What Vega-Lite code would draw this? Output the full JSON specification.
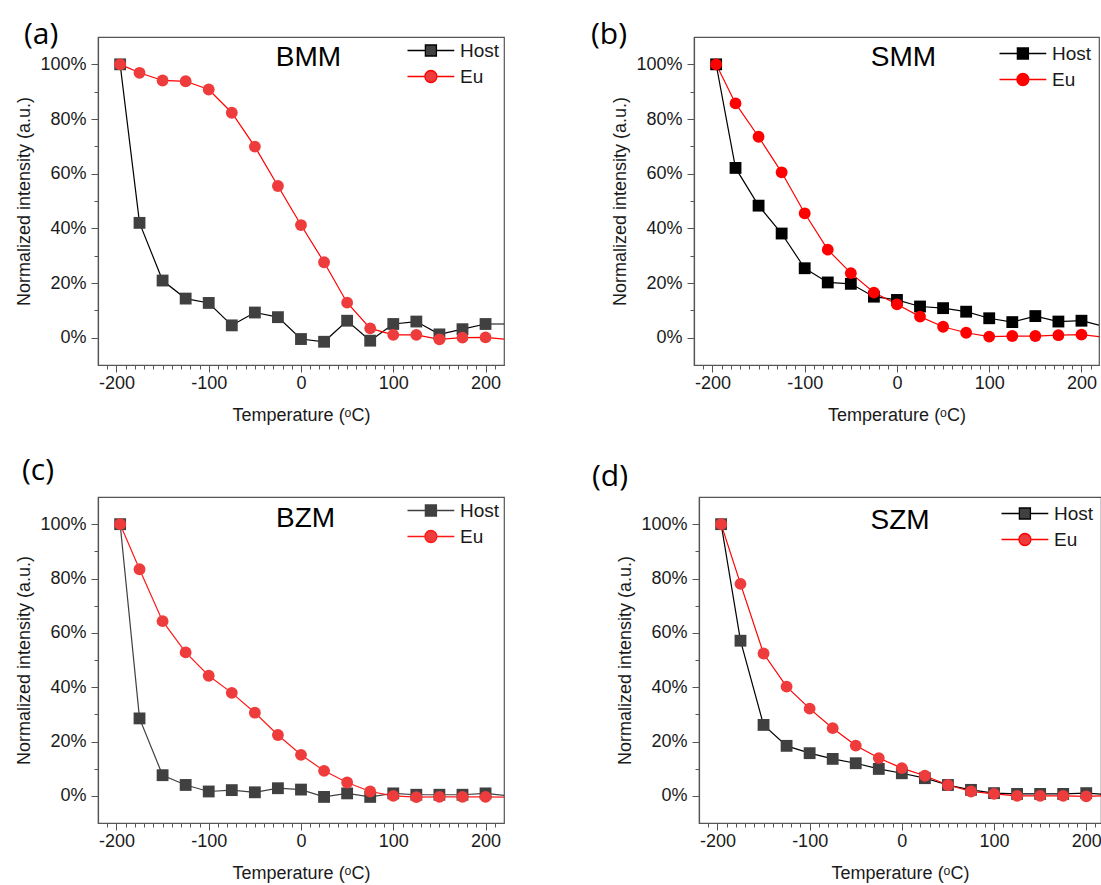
{
 "$schema": "https://vega.github.io/schema/vega-lite/v6.json",
 "padding": {"left": 15, "top": 19, "right": 0, "bottom": 0},
 "background": "white",
 "config": {
  "font": "Liberation Sans",
  "view": {"stroke": "#555555", "strokeWidth": 1.2},
  "axis": {"grid": false, "tickCount": 100, "domainColor": "#555555", "domainWidth": 1.2, "tickColor": "#555555", "tickWidth": 1, "labelFont": "Liberation Sans", "labelFontSize": 18, "labelColor": "#1a1a1a", "titleFont": "Liberation Sans", "titleFontSize": 18, "titleFontWeight": "normal", "titleColor": "#1a1a1a", "labelOverlap": false, "labelFlush": false, "labelBound": false},
  "legend": {"labelFont": "Liberation Sans", "labelFontSize": 19, "labelColor": "#1a1a1a", "padding": 4, "rowPadding": 6, "symbolSize": 144, "labelOffset": 37, "symbolStrokeWidth": 1.3},
  "title": {"font": "Open Sans", "fontSize": 30, "fontWeight": "normal", "anchor": "start", "frame": "bounds", "offset": 0, "baseline": "alphabetic", "color": "#000000"}
 },
 "datasets": {
  "a": [
   {"T": -196, "v": 100, "s": "Host"}, {"T": -175, "v": 42, "s": "Host"}, {"T": -150, "v": 20.9, "s": "Host"}, {"T": -125, "v": 14.3, "s": "Host"}, {"T": -100, "v": 12.7, "s": "Host"}, {"T": -75, "v": 4.5, "s": "Host"}, {"T": -50, "v": 9.2, "s": "Host"}, {"T": -25, "v": 7.5, "s": "Host"}, {"T": 0, "v": -0.5, "s": "Host"}, {"T": 25, "v": -1.5, "s": "Host"}, {"T": 50, "v": 6.2, "s": "Host"}, {"T": 75, "v": -1.1, "s": "Host"}, {"T": 100, "v": 5.0, "s": "Host"}, {"T": 125, "v": 5.9, "s": "Host"}, {"T": 150, "v": 1.2, "s": "Host"}, {"T": 175, "v": 3.1, "s": "Host"}, {"T": 200, "v": 5.0, "s": "Host"}, {"T": 225, "v": 5.0, "s": "Host"},
   {"T": -196, "v": 100, "s": "Eu"}, {"T": -175, "v": 96.9, "s": "Eu"}, {"T": -150, "v": 94.1, "s": "Eu"}, {"T": -125, "v": 93.8, "s": "Eu"}, {"T": -100, "v": 90.8, "s": "Eu"}, {"T": -75, "v": 82.3, "s": "Eu"}, {"T": -50, "v": 69.9, "s": "Eu"}, {"T": -25, "v": 55.5, "s": "Eu"}, {"T": 0, "v": 41.2, "s": "Eu"}, {"T": 25, "v": 27.6, "s": "Eu"}, {"T": 50, "v": 12.8, "s": "Eu"}, {"T": 75, "v": 3.4, "s": "Eu"}, {"T": 100, "v": 1.0, "s": "Eu"}, {"T": 125, "v": 1.0, "s": "Eu"}, {"T": 150, "v": -0.6, "s": "Eu"}, {"T": 175, "v": 0, "s": "Eu"}, {"T": 200, "v": 0.1, "s": "Eu"}, {"T": 225, "v": -0.5, "s": "Eu"}
  ],
  "b": [
   {"T": -196, "v": 100, "s": "Host"}, {"T": -175, "v": 62.1, "s": "Host"}, {"T": -150, "v": 48.3, "s": "Host"}, {"T": -125, "v": 38.1, "s": "Host"}, {"T": -100, "v": 25.4, "s": "Host"}, {"T": -75, "v": 20.2, "s": "Host"}, {"T": -50, "v": 19.7, "s": "Host"}, {"T": -25, "v": 15.0, "s": "Host"}, {"T": 0, "v": 13.8, "s": "Host"}, {"T": 25, "v": 11.4, "s": "Host"}, {"T": 50, "v": 10.8, "s": "Host"}, {"T": 75, "v": 9.5, "s": "Host"}, {"T": 100, "v": 7.1, "s": "Host"}, {"T": 125, "v": 5.7, "s": "Host"}, {"T": 150, "v": 7.9, "s": "Host"}, {"T": 175, "v": 5.9, "s": "Host"}, {"T": 200, "v": 6.2, "s": "Host"}, {"T": 225, "v": 4.6, "s": "Host"},
   {"T": -196, "v": 100, "s": "Eu"}, {"T": -175, "v": 85.7, "s": "Eu"}, {"T": -150, "v": 73.5, "s": "Eu"}, {"T": -125, "v": 60.5, "s": "Eu"}, {"T": -100, "v": 45.5, "s": "Eu"}, {"T": -75, "v": 32.2, "s": "Eu"}, {"T": -50, "v": 23.6, "s": "Eu"}, {"T": -25, "v": 16.5, "s": "Eu"}, {"T": 0, "v": 12.2, "s": "Eu"}, {"T": 25, "v": 7.7, "s": "Eu"}, {"T": 50, "v": 4.0, "s": "Eu"}, {"T": 75, "v": 1.8, "s": "Eu"}, {"T": 100, "v": 0.4, "s": "Eu"}, {"T": 125, "v": 0.6, "s": "Eu"}, {"T": 150, "v": 0.6, "s": "Eu"}, {"T": 175, "v": 0.9, "s": "Eu"}, {"T": 200, "v": 1.1, "s": "Eu"}, {"T": 225, "v": 0.4, "s": "Eu"}
  ],
  "c": [
   {"T": -196, "v": 100, "s": "Host"}, {"T": -175, "v": 28.5, "s": "Host"}, {"T": -150, "v": 7.6, "s": "Host"}, {"T": -125, "v": 4.0, "s": "Host"}, {"T": -100, "v": 1.6, "s": "Host"}, {"T": -75, "v": 2.1, "s": "Host"}, {"T": -50, "v": 1.3, "s": "Host"}, {"T": -25, "v": 2.8, "s": "Host"}, {"T": 0, "v": 2.3, "s": "Host"}, {"T": 25, "v": -0.4, "s": "Host"}, {"T": 50, "v": 0.9, "s": "Host"}, {"T": 75, "v": -0.4, "s": "Host"}, {"T": 100, "v": 0.9, "s": "Host"}, {"T": 125, "v": 0.4, "s": "Host"}, {"T": 150, "v": 0.4, "s": "Host"}, {"T": 175, "v": 0.4, "s": "Host"}, {"T": 200, "v": 0.9, "s": "Host"}, {"T": 225, "v": 0.2, "s": "Host"},
   {"T": -196, "v": 100, "s": "Eu"}, {"T": -175, "v": 83.4, "s": "Eu"}, {"T": -150, "v": 64.3, "s": "Eu"}, {"T": -125, "v": 52.8, "s": "Eu"}, {"T": -100, "v": 44.2, "s": "Eu"}, {"T": -75, "v": 37.9, "s": "Eu"}, {"T": -50, "v": 30.6, "s": "Eu"}, {"T": -25, "v": 22.4, "s": "Eu"}, {"T": 0, "v": 15.1, "s": "Eu"}, {"T": 25, "v": 9.2, "s": "Eu"}, {"T": 50, "v": 4.9, "s": "Eu"}, {"T": 75, "v": 1.6, "s": "Eu"}, {"T": 100, "v": 0, "s": "Eu"}, {"T": 125, "v": -0.5, "s": "Eu"}, {"T": 150, "v": -0.4, "s": "Eu"}, {"T": 175, "v": -0.4, "s": "Eu"}, {"T": 200, "v": -0.4, "s": "Eu"}, {"T": 225, "v": -0.5, "s": "Eu"}
  ],
  "d": [
   {"T": -196, "v": 100, "s": "Host"}, {"T": -175, "v": 57.1, "s": "Host"}, {"T": -150, "v": 26.1, "s": "Host"}, {"T": -125, "v": 18.4, "s": "Host"}, {"T": -100, "v": 15.7, "s": "Host"}, {"T": -75, "v": 13.6, "s": "Host"}, {"T": -50, "v": 12.0, "s": "Host"}, {"T": -25, "v": 9.9, "s": "Host"}, {"T": 0, "v": 8.3, "s": "Host"}, {"T": 25, "v": 6.5, "s": "Host"}, {"T": 50, "v": 4.0, "s": "Host"}, {"T": 75, "v": 2.2, "s": "Host"}, {"T": 100, "v": 1.0, "s": "Host"}, {"T": 125, "v": 0.7, "s": "Host"}, {"T": 150, "v": 0.7, "s": "Host"}, {"T": 175, "v": 0.7, "s": "Host"}, {"T": 200, "v": 1.0, "s": "Host"}, {"T": 225, "v": 0.6, "s": "Host"},
   {"T": -196, "v": 100, "s": "Eu"}, {"T": -175, "v": 78.0, "s": "Eu"}, {"T": -150, "v": 52.4, "s": "Eu"}, {"T": -125, "v": 40.2, "s": "Eu"}, {"T": -100, "v": 32.1, "s": "Eu"}, {"T": -75, "v": 24.9, "s": "Eu"}, {"T": -50, "v": 18.5, "s": "Eu"}, {"T": -25, "v": 13.9, "s": "Eu"}, {"T": 0, "v": 10.2, "s": "Eu"}, {"T": 25, "v": 7.4, "s": "Eu"}, {"T": 50, "v": 4.0, "s": "Eu"}, {"T": 75, "v": 1.6, "s": "Eu"}, {"T": 100, "v": 0.7, "s": "Eu"}, {"T": 125, "v": 0, "s": "Eu"}, {"T": 150, "v": 0, "s": "Eu"}, {"T": 175, "v": 0, "s": "Eu"}, {"T": 200, "v": -0.2, "s": "Eu"}, {"T": 225, "v": 0, "s": "Eu"}
  ]
 },
 "resolve": {"scale": {"shape": "independent", "fill": "independent", "stroke": "independent"}, "legend": {"shape": "independent", "fill": "independent", "stroke": "independent"}},
 "spacing": 30,
 "vconcat": [
  {
   "spacing": 85,
   "resolve": {"scale": {"shape": "independent", "fill": "independent", "stroke": "independent"}, "legend": {"shape": "independent", "fill": "independent", "stroke": "independent"}},
   "hconcat": [
    {
     "width": 406, "height": 328,
     "title": {"text": "(a)", "dx": 8, "dy": 17},
     "data": {"name": "a"},
     "layer": [
      {"mark": {"type": "line", "clip": true, "strokeWidth": 1.2},
       "encoding": {
        "x": {"field": "T", "type": "quantitative", "scale": {"domain": [-220, 220], "nice": false, "zero": false, "clamp": true},
              "axis": {"values": [-210,-200,-190,-180,-170,-160,-150,-140,-130,-120,-110,-100,-90,-80,-70,-60,-50,-40,-30,-20,-10,0,10,20,30,40,50,60,70,80,90,100,110,120,130,140,150,160,170,180,190,200,210], "tickSize": {"condition": {"test": "datum.value % 100 === 0", "value": 7}, "value": 4}, "labelExpr": "datum.value % 100 === 0 ? '' + datum.value : ''", "title": "Temperature (ᵒC)", "labelPadding": 2, "titlePadding": 14}},
        "y": {"field": "v", "type": "quantitative", "scale": {"domain": [-10, 110], "nice": false, "zero": false},
              "axis": {"values": [0,10,20,30,40,50,60,70,80,90,100], "tickSize": {"condition": {"test": "datum.value % 20 === 0", "value": 7}, "value": 4}, "labelExpr": "datum.value % 20 === 0 ? datum.value + '%' : ''", "title": "Normalized intensity (a.u.)", "labelPadding": 5, "titlePadding": 6}},
        "detail": {"field": "s"},
        "color": {"condition": {"test": "datum.s === 'Host'", "value": "#000000"}, "value": "#ff0000"}
       }},
      {"transform": [{"filter": "datum.T <= 200"}],
       "mark": {"type": "point", "filled": true, "opacity": 1, "size": 140},
       "encoding": {
        "x": {"field": "T", "type": "quantitative"},
        "y": {"field": "v", "type": "quantitative"},
        "shape": {"condition": {"test": "datum.s === 'Host'", "value": "square"}, "value": "circle"},
        "color": {"condition": {"test": "datum.s === 'Host'", "value": "#404040"}, "value": "#ee3b3b"}
       }},
      {"transform": [{"filter": "false"}],
       "mark": {"type": "point", "filled": false, "opacity": 1, "strokeWidth": 1.3},
       "encoding": {
        "x": {"field": "T", "type": "quantitative"},
        "y": {"field": "v", "type": "quantitative"},
        "shape": {"field": "s", "type": "nominal", "scale": {"domain": ["Host", "Eu"], "range": ["M-1,0H1.98M3.82,0H6.8M1.98,-0.92H3.82V0.92H1.98Z", "M-1,0H1.9M3.9,0H6.8M1.9,0A1,1,0,1,0,3.9,0A1,1,0,1,0,1.9,0Z"]}, "legend": {"title": null, "orient": "top-right", "offset": 0}},
        "fill": {"field": "s", "type": "nominal", "scale": {"domain": ["Host", "Eu"], "range": ["#404040", "#ee3b3b"]}, "legend": {"title": null, "orient": "top-right", "offset": 0}},
        "stroke": {"field": "s", "type": "nominal", "scale": {"domain": ["Host", "Eu"], "range": ["#000000", "#ff0000"]}, "legend": {"title": null, "orient": "top-right", "offset": 0}}
       }},
      {"data": {"values": [{}]},
       "mark": {"type": "text", "font": "Liberation Sans", "fontSize": 28, "color": "#000000"},
       "encoding": {"x": {"datum": 8}, "y": {"datum": 102.5}, "text": {"value": "BMM"}}}
     ]
    },
    {
     "width": 405, "height": 328,
     "title": {"text": "(b)", "dx": -21, "dy": 17},
     "data": {"name": "b"},
     "layer": [
      {"mark": {"type": "line", "clip": true, "strokeWidth": 1.2},
       "encoding": {
        "x": {"field": "T", "type": "quantitative", "scale": {"domain": [-220, 219], "nice": false, "zero": false, "clamp": true},
              "axis": {"values": [-210,-200,-190,-180,-170,-160,-150,-140,-130,-120,-110,-100,-90,-80,-70,-60,-50,-40,-30,-20,-10,0,10,20,30,40,50,60,70,80,90,100,110,120,130,140,150,160,170,180,190,200,210], "tickSize": {"condition": {"test": "datum.value % 100 === 0", "value": 7}, "value": 4}, "labelExpr": "datum.value % 100 === 0 ? '' + datum.value : ''", "title": "Temperature (ᵒC)", "labelPadding": 2, "titlePadding": 14}},
        "y": {"field": "v", "type": "quantitative", "scale": {"domain": [-10, 110], "nice": false, "zero": false},
              "axis": {"values": [0,10,20,30,40,50,60,70,80,90,100], "tickSize": {"condition": {"test": "datum.value % 20 === 0", "value": 7}, "value": 4}, "labelExpr": "datum.value % 20 === 0 ? datum.value + '%' : ''", "title": "Normalized intensity (a.u.)", "labelPadding": 5, "titlePadding": 6}},
        "detail": {"field": "s"},
        "color": {"condition": {"test": "datum.s === 'Host'", "value": "#000000"}, "value": "#ff0000"}
       }},
      {"transform": [{"filter": "datum.T <= 200"}],
       "mark": {"type": "point", "filled": true, "opacity": 1, "size": 140},
       "encoding": {
        "x": {"field": "T", "type": "quantitative"},
        "y": {"field": "v", "type": "quantitative"},
        "shape": {"condition": {"test": "datum.s === 'Host'", "value": "square"}, "value": "circle"},
        "color": {"condition": {"test": "datum.s === 'Host'", "value": "#000000"}, "value": "#ff0000"}
       }},
      {"transform": [{"filter": "false"}],
       "mark": {"type": "point", "filled": false, "opacity": 1, "strokeWidth": 1.3},
       "encoding": {
        "x": {"field": "T", "type": "quantitative"},
        "y": {"field": "v", "type": "quantitative"},
        "shape": {"field": "s", "type": "nominal", "scale": {"domain": ["Host", "Eu"], "range": ["M-1,0H1.98M3.82,0H6.8M1.98,-0.92H3.82V0.92H1.98Z", "M-1,0H1.9M3.9,0H6.8M1.9,0A1,1,0,1,0,3.9,0A1,1,0,1,0,1.9,0Z"]}, "legend": {"title": null, "orient": "top-right", "offset": 3}},
        "fill": {"field": "s", "type": "nominal", "scale": {"domain": ["Host", "Eu"], "range": ["#000000", "#ff0000"]}, "legend": {"title": null, "orient": "top-right", "offset": 3}},
        "stroke": {"field": "s", "type": "nominal", "scale": {"domain": ["Host", "Eu"], "range": ["#000000", "#ff0000"]}, "legend": {"title": null, "orient": "top-right", "offset": 3}}
       }},
      {"data": {"values": [{}]},
       "mark": {"type": "text", "font": "Liberation Sans", "fontSize": 28, "color": "#000000"},
       "encoding": {"x": {"datum": 7}, "y": {"datum": 102.5}, "text": {"value": "SMM"}}}
     ]
    }
   ]
  },
  {
   "spacing": 86,
   "resolve": {"scale": {"shape": "independent", "fill": "independent", "stroke": "independent"}, "legend": {"shape": "independent", "fill": "independent", "stroke": "independent"}},
   "hconcat": [
    {
     "width": 406, "height": 326,
     "title": {"text": "(c)", "dx": 6, "dy": -7},
     "data": {"name": "c"},
     "layer": [
      {"mark": {"type": "line", "clip": true, "strokeWidth": 1.2},
       "encoding": {
        "x": {"field": "T", "type": "quantitative", "scale": {"domain": [-220, 220], "nice": false, "zero": false, "clamp": true},
              "axis": {"values": [-210,-200,-190,-180,-170,-160,-150,-140,-130,-120,-110,-100,-90,-80,-70,-60,-50,-40,-30,-20,-10,0,10,20,30,40,50,60,70,80,90,100,110,120,130,140,150,160,170,180,190,200,210], "tickSize": {"condition": {"test": "datum.value % 100 === 0", "value": 7}, "value": 4}, "labelExpr": "datum.value % 100 === 0 ? '' + datum.value : ''", "title": "Temperature (ᵒC)", "labelPadding": 2, "titlePadding": 14}},
        "y": {"field": "v", "type": "quantitative", "scale": {"domain": [-10, 110], "nice": false, "zero": false},
              "axis": {"values": [0,10,20,30,40,50,60,70,80,90,100], "tickSize": {"condition": {"test": "datum.value % 20 === 0", "value": 7}, "value": 4}, "labelExpr": "datum.value % 20 === 0 ? datum.value + '%' : ''", "title": "Normalized intensity (a.u.)", "labelPadding": 5, "titlePadding": 6}},
        "detail": {"field": "s"},
        "color": {"condition": {"test": "datum.s === 'Host'", "value": "#404040"}, "value": "#ff1a1a"}
       }},
      {"transform": [{"filter": "datum.T <= 200"}],
       "mark": {"type": "point", "filled": true, "opacity": 1, "size": 140},
       "encoding": {
        "x": {"field": "T", "type": "quantitative"},
        "y": {"field": "v", "type": "quantitative"},
        "shape": {"condition": {"test": "datum.s === 'Host'", "value": "square"}, "value": "circle"},
        "color": {"condition": {"test": "datum.s === 'Host'", "value": "#404040"}, "value": "#ee3b3b"}
       }},
      {"transform": [{"filter": "false"}],
       "mark": {"type": "point", "filled": false, "opacity": 1, "strokeWidth": 1.3},
       "encoding": {
        "x": {"field": "T", "type": "quantitative"},
        "y": {"field": "v", "type": "quantitative"},
        "shape": {"field": "s", "type": "nominal", "scale": {"domain": ["Host", "Eu"], "range": ["M-1,0H1.98M3.82,0H6.8M1.98,-0.92H3.82V0.92H1.98Z", "M-1,0H1.9M3.9,0H6.8M1.9,0A1,1,0,1,0,3.9,0A1,1,0,1,0,1.9,0Z"]}, "legend": {"title": null, "orient": "top-right", "offset": 0}},
        "fill": {"field": "s", "type": "nominal", "scale": {"domain": ["Host", "Eu"], "range": ["#404040", "#ee3b3b"]}, "legend": {"title": null, "orient": "top-right", "offset": 0}},
        "stroke": {"field": "s", "type": "nominal", "scale": {"domain": ["Host", "Eu"], "range": ["#404040", "#ff1a1a"]}, "legend": {"title": null, "orient": "top-right", "offset": 0}}
       }},
      {"data": {"values": [{}]},
       "mark": {"type": "text", "font": "Liberation Sans", "fontSize": 28, "color": "#000000"},
       "encoding": {"x": {"datum": 5}, "y": {"datum": 102}, "text": {"value": "BZM"}}}
     ]
    },
    {
     "width": 402, "height": 326,
     "title": {"text": "(d)", "dx": -25, "dy": -1},
     "data": {"name": "d"},
     "layer": [
      {"mark": {"type": "line", "clip": true, "strokeWidth": 1.2},
       "encoding": {
        "x": {"field": "T", "type": "quantitative", "scale": {"domain": [-220, 216], "nice": false, "zero": false, "clamp": true},
              "axis": {"values": [-210,-200,-190,-180,-170,-160,-150,-140,-130,-120,-110,-100,-90,-80,-70,-60,-50,-40,-30,-20,-10,0,10,20,30,40,50,60,70,80,90,100,110,120,130,140,150,160,170,180,190,200,210], "tickSize": {"condition": {"test": "datum.value % 100 === 0", "value": 7}, "value": 4}, "labelExpr": "datum.value % 100 === 0 ? '' + datum.value : ''", "title": "Temperature (ᵒC)", "labelPadding": 2, "titlePadding": 14}},
        "y": {"field": "v", "type": "quantitative", "scale": {"domain": [-10, 110], "nice": false, "zero": false},
              "axis": {"values": [0,10,20,30,40,50,60,70,80,90,100], "tickSize": {"condition": {"test": "datum.value % 20 === 0", "value": 7}, "value": 4}, "labelExpr": "datum.value % 20 === 0 ? datum.value + '%' : ''", "title": "Normalized intensity (a.u.)", "labelPadding": 5, "titlePadding": 6}},
        "detail": {"field": "s"},
        "color": {"condition": {"test": "datum.s === 'Host'", "value": "#000000"}, "value": "#ff0000"}
       }},
      {"transform": [{"filter": "datum.T <= 200"}],
       "mark": {"type": "point", "filled": true, "opacity": 1, "size": 140},
       "encoding": {
        "x": {"field": "T", "type": "quantitative"},
        "y": {"field": "v", "type": "quantitative"},
        "shape": {"condition": {"test": "datum.s === 'Host'", "value": "square"}, "value": "circle"},
        "color": {"condition": {"test": "datum.s === 'Host'", "value": "#404040"}, "value": "#ee3b3b"}
       }},
      {"transform": [{"filter": "false"}],
       "mark": {"type": "point", "filled": false, "opacity": 1, "strokeWidth": 1.3},
       "encoding": {
        "x": {"field": "T", "type": "quantitative"},
        "y": {"field": "v", "type": "quantitative"},
        "shape": {"field": "s", "type": "nominal", "scale": {"domain": ["Host", "Eu"], "range": ["M-1,0H1.98M3.82,0H6.8M1.98,-0.92H3.82V0.92H1.98Z", "M-1,0H1.9M3.9,0H6.8M1.9,0A1,1,0,1,0,3.9,0A1,1,0,1,0,1.9,0Z"]}, "legend": {"title": null, "orient": "top-right", "offset": 3}},
        "fill": {"field": "s", "type": "nominal", "scale": {"domain": ["Host", "Eu"], "range": ["#404040", "#ee3b3b"]}, "legend": {"title": null, "orient": "top-right", "offset": 3}},
        "stroke": {"field": "s", "type": "nominal", "scale": {"domain": ["Host", "Eu"], "range": ["#000000", "#ff0000"]}, "legend": {"title": null, "orient": "top-right", "offset": 3}}
       }},
      {"data": {"values": [{}]},
       "mark": {"type": "text", "font": "Liberation Sans", "fontSize": 28, "color": "#000000"},
       "encoding": {"x": {"datum": -2}, "y": {"datum": 101.2}, "text": {"value": "SZM"}}}
     ]
    }
   ]
  }
 ]
}
